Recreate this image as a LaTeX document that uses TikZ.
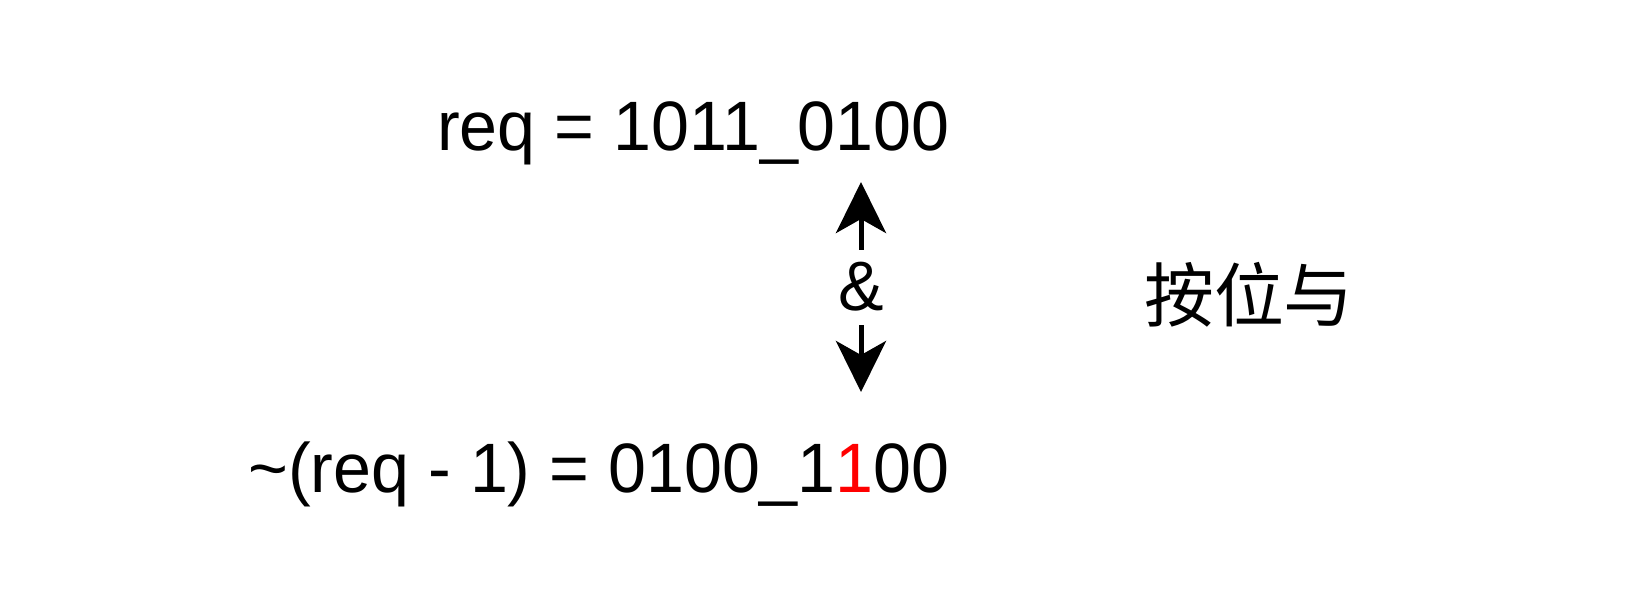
\documentclass[tikz,border=0pt]{standalone}
\usepackage{fontspec}
\usepackage{xcolor}
\setmainfont{Liberation Sans}[FakeStretch=0.975]
\newfontfamily\cjk{Noto Sans CJK SC}
\usetikzlibrary{arrows.meta}

\begin{document}
\begin{tikzpicture}[x=0.02cm, y=-0.02cm,
    txt/.style={inner sep=0pt, font=\fontsize{39.8}{48}\selectfont},
    amp/.style={txt, fill=white, minimum height=1.5cm},
    dbl/.style={line width=0.1cm, {Stealth[length=1.02cm, width=1cm, inset=0.28cm]}-{Stealth[length=1.02cm, width=1cm, inset=0.28cm]}}]

    \useasboundingbox (0, 0) rectangle (1642, 599);

    \node[txt, anchor=base east] (a) at (950, 150) {req = 1011\_0100};
    \node[txt, anchor=base east] (b) at (950, 492) {\char`\~(req - 1) = 0100\_1\textcolor{red}{1}00};
    \node[txt] (c) at (1249, 295) {\cjk 按位与};
    \coordinate (u) at (861, 182);
    \coordinate (d) at (861, 392);

    \draw [dbl] (u) to node[amp] (e) {\&} (d);

  \end{tikzpicture}
\end{document}
